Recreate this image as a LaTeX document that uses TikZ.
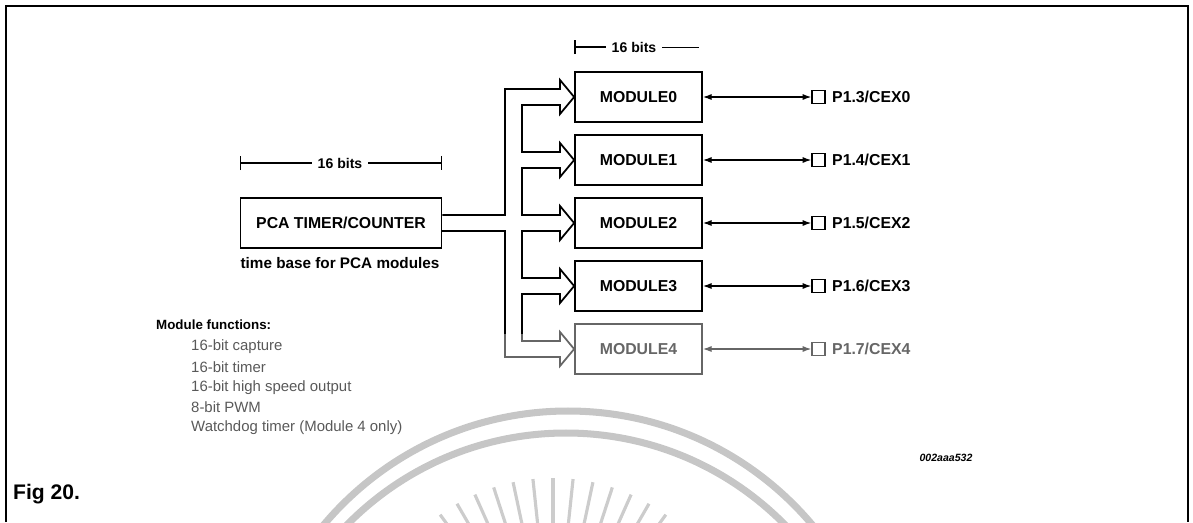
\documentclass[tikz,border=0pt]{standalone}
\usepackage{fontspec}
\setmainfont{Liberation Sans}
\usetikzlibrary{arrows.meta}
\tikzset{
  modbox/.style={draw,line width=1pt,minimum width=2.54cm,minimum height=1cm,inner sep=0pt,font=\fontsize{9}{11}\selectfont\bfseries},
  pinbox/.style={draw,line width=0.8pt,minimum size=0.26cm,inner sep=0pt},
  pinlabel/.style={anchor=west,inner sep=1pt,xshift=2.5pt,font=\fontsize{9}{11}\selectfont\bfseries},
  bitslabel/.style={font=\fontsize{8}{10}\selectfont\bfseries},
  dimline/.style={line width=0.8pt},
  buslines/.style={line width=1pt,line join=miter},
  pinarrow/.style={line width=0.7pt,{Latex[length=5pt,width=3.5pt]}-{Latex[length=5pt,width=3.5pt]}},
  wmark/.style={gray!45,line width=4pt}
}

\begin{document}
\begin{tikzpicture}[x=0.02cm,y=-0.02cm]
    \useasboundingbox (0,0) rectangle (1193,522);
    \begin{scope}
        \clip (0,0) rectangle (1193,522);
        \draw[wmark] (568,730) circle (319);
        \draw[wmark] (566,740) circle (307);
        \foreach \a in {228,234,...,312} {
            \draw[gray!40,line width=1.8pt] (553,670) ++(\a:192) -- ++(\a:-75);
        }
    \end{scope}
    \draw[line width=1.1pt] (6,522) -- (6,6) -- (1188,6) -- (1188,522);

    \node[modbox,minimum width=4.02cm] (pca) at (341,223) {PCA TIMER/COUNTER};
    \node[bitslabel] (pw) at (340,163) {16 bits};
    \draw[dimline,{Bar[width=8pt]}-] (pca.west |- pw) -- (pw.west);
    \draw[dimline,-{Bar[width=8pt]}] (pw.east) -- (pca.east |- pw);
    \node[font=\fontsize{8.7}{10}\selectfont\bfseries] (tb) at (340,263) {time base for PCA modules};

    \foreach \i/\n in {0/3,1/4,2/5,3/6,4/7} {
        \ifnum\i<4 \colorlet{mc}{black}\else \colorlet{mc}{black!60}\fi
        \node[modbox,draw=mc,text=mc] (m\i) at (638.5,97+63*\i) {MODULE\i};
        \node[pinbox,draw=mc] (p\i) at (818.5,97+63*\i) {};
        \node[pinlabel,text=mc] (l\i) at (p\i.east) {P1.\n/CEX\i};
        \draw[pinarrow,draw=mc,fill=mc] (m\i.east) -- (p\i.west);
    }
    \node[bitslabel] (mw) at (634,47) {16 bits};
    \draw[dimline,{Bar[width=8pt]}-] (m0.west |- mw) -- (mw.west);
    \draw[line width=0.5pt] (mw.east) -- ([xshift=-0.08cm]m0.east |- mw);

    \draw[buslines] (pca.east) ++(0,-8) -- (505,215) -- (505,89) -- (560,89) -- (560,80) -- (m0.west) -- (560,114) -- (560,105)
        -- (522,105) -- (522,152) -- (560,152) -- (560,143) -- (m1.west) -- (560,177) -- (560,168)
        -- (522,168) -- (522,215) -- (560,215) -- (560,206) -- (m2.west) -- (560,240) -- (560,231)
        -- (522,231) -- (522,278) -- (560,278) -- (560,269) -- (m3.west) -- (560,303) -- (560,294)
        -- (522,294) -- (522,334);
    \draw[buslines,black!60] (522,334) -- (522,341) -- (560,341) -- (560,332) -- (m4.west) -- (560,366) -- (560,357)
        -- (505,357) -- (505,334);
    \draw[buslines] (505,334) -- (505,231) -- (pca.east |- 0,231);

    \node[anchor=west,font=\fontsize{7.6}{9}\selectfont\bfseries] (mf) at (150,325) {Module functions:};
    \foreach \t [count=\k] in {16-bit capture,16-bit timer,16-bit high speed output,8-bit PWM,Watchdog timer (Module 4 only)} {
        \node[anchor=west,text=black!65,font=\fontsize{8.5}{10}\selectfont] (f\k) at (185,326+20.4*\k) {\t};
    }
    \node[font=\fontsize{6}{7}\selectfont\bfseries\itshape] (code) at (946,458) {002aaa532};
    \node[anchor=west,font=\fontsize{12}{14}\selectfont\bfseries] (fig) at (7,494) {Fig 20.};
\end{tikzpicture}
\end{document}
